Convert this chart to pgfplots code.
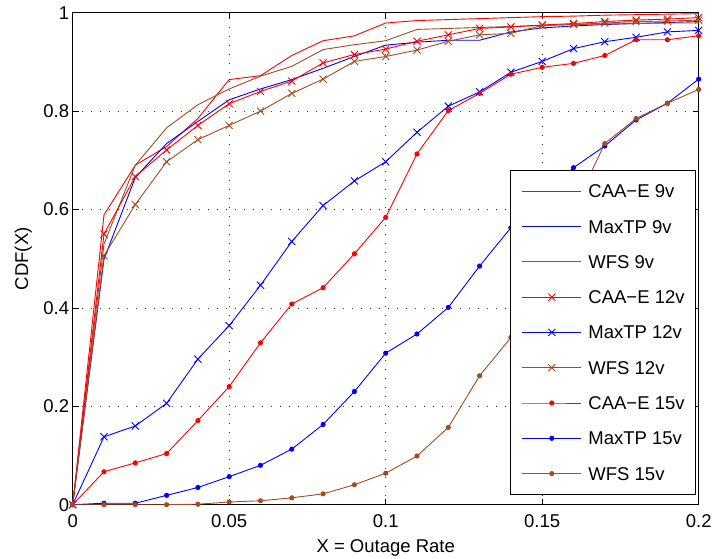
\documentclass[border=0pt]{standalone}
\usepackage{pgfplots}
\pgfplotsset{compat=1.18}
\usepackage{pgfplotstable}
\usepackage{fontspec}
\setmainfont{Liberation Sans}
\definecolor{mred}{rgb}{1,0,0}
\definecolor{mblue}{rgb}{0,0,1}
\definecolor{mbrown}{RGB}{165,75,30}

% columns: x, caa9, max9, wfs9, caa12, max12, wfs12, caa15, max15, wfs15
\pgfplotstableread{
x     caa9  max9  wfs9  caa12 max12 wfs12 caa15 max15 wfs15
0.00  0     0     0     0     0     0     0     0     0
0.01  0.589 0.499 0.530 0.550 0.138 0.506 0.067 0.003 0.000
0.02  0.690 0.665 0.690 0.667 0.160 0.610 0.085 0.003 0.000
0.03  0.728 0.734 0.766 0.721 0.206 0.697 0.104 0.019 0.000
0.04  0.785 0.779 0.813 0.771 0.296 0.742 0.171 0.035 0.001
0.05  0.864 0.823 0.845 0.815 0.364 0.771 0.240 0.057 0.0055
0.06  0.872 0.845 0.871 0.840 0.446 0.800 0.329 0.080 0.008
0.07  0.913 0.864 0.891 0.861 0.535 0.836 0.408 0.113 0.014
0.08  0.943 0.887 0.925 0.898 0.608 0.865 0.441 0.163 0.022
0.09  0.953 0.911 0.935 0.915 0.658 0.901 0.510 0.230 0.0405
0.10  0.979 0.934 0.943 0.926 0.697 0.911 0.584 0.308 0.064
0.11  0.984 0.940 0.966 0.942 0.757 0.924 0.713 0.347 0.099
0.12  0.986 0.944 0.968 0.955 0.810 0.942 0.801 0.401 0.157
0.13  0.988 0.944 0.970 0.968 0.839 0.955 0.836 0.485 0.262
0.14  0.990 0.961 0.972 0.971 0.879 0.958 0.875 0.563 0.340
0.15  0.992 0.969 0.974 0.975 0.901 0.974 0.889 0.620 0.470
0.16  0.993 0.973 0.976 0.978 0.927 0.976 0.897 0.685 0.600
0.17  0.995 0.976 0.977 0.982 0.941 0.979 0.913 0.729 0.734
0.18  0.996 0.978 0.978 0.985 0.950 0.982 0.945 0.782 0.785
0.19  0.997 0.980 0.979 0.987 0.961 0.983 0.945 0.816 0.816
0.20  0.998 0.982 0.979 0.990 0.964 0.985 0.953 0.865 0.844
}\datatable

\begin{document}
\begin{tikzpicture}
\begin{axis}[
  scale only axis,
  width=626bp, height=492bp,
  xmin=0, xmax=0.2, ymin=0, ymax=1,
  xtick={0,0.05,0.1,0.15,0.2},
  xticklabels={0,0.05,0.1,0.15,0.2},
  ytick={0,0.2,0.4,0.6,0.8,1},
  yticklabels={0,0.2,0.4,0.6,0.8,1},
  /pgf/number format/assume math mode=true,
  font=\fontsize{18.5bp}{22bp}\selectfont,
  tick label style={font=\fontsize{18.5bp}{22bp}\selectfont},
  xticklabel style={yshift=-6bp},
  tick align=inside,
  major tick length=6bp,
  tick style={black, line width=0.7bp},
  axis line style={black, line width=0.8bp},
  grid=major,
  major grid style={black!75, line width=0.6bp, dash pattern=on 0.8bp off 8.2bp},
  xlabel={X = Outage Rate},
  ylabel={CDF(X)},
  xlabel style={at={(axis description cs:0.5,-0.09756)}, anchor=base},
  ylabel style={at={(axis description cs:-0.0714,0.5)}, anchor=base, rotate=0},
  legend cell align=left,
  legend image code/.code={\draw[mark repeat=2,mark phase=2,#1] plot coordinates {(0bp,0bp) (29.5bp,0bp) (59bp,0bp)};},
  legend style={at={(axis description cs:0.99569,0.0197)}, anchor=south east,
    draw=black, line width=0.8bp, fill=white,
    inner xsep=11bp, inner ysep=14.5bp, row sep=22.3bp, column sep=6.7bp,
    nodes={inner sep=0pt, text height=13bp, text depth=0pt, font=\fontsize{18.5bp}{22bp}\selectfont}},
  every axis plot/.append style={line width=0.9bp},
]
\addplot[mred, no marks] table[x=x,y=caa9]{\datatable};
\addlegendentry{CAA−E 9v}
\addplot[mblue, no marks] table[x=x,y=max9]{\datatable};
\addlegendentry{MaxTP 9v}
\addplot[mbrown, no marks] table[x=x,y=wfs9]{\datatable};
\addlegendentry{WFS 9v}
\addplot[mred, mark=x, mark size=5bp, mark options={solid}] table[x=x,y=caa12]{\datatable};
\addlegendentry{CAA−E 12v}
\addplot[mblue, mark=x, mark size=5bp, mark options={solid}] table[x=x,y=max12]{\datatable};
\addlegendentry{MaxTP 12v}
\addplot[mbrown, mark=x, mark size=5bp, mark options={solid}] table[x=x,y=wfs12]{\datatable};
\addlegendentry{WFS 12v}
\addplot[mred, mark=*, mark size=2.1bp, mark options={solid}] table[x=x,y=caa15]{\datatable};
\addlegendentry{CAA−E 15v}
\addplot[mblue, mark=*, mark size=2.1bp, mark options={solid}] table[x=x,y=max15]{\datatable};
\addlegendentry{MaxTP 15v}
\addplot[mbrown, mark=*, mark size=2.1bp, mark options={solid}] table[x=x,y=wfs15]{\datatable};
\addlegendentry{WFS 15v}
\end{axis}
\pgfresetboundingbox
\path[use as bounding box] (-72.7bp,-54.3bp) rectangle (639.3bp,504.7bp);
\end{tikzpicture}
\end{document}
